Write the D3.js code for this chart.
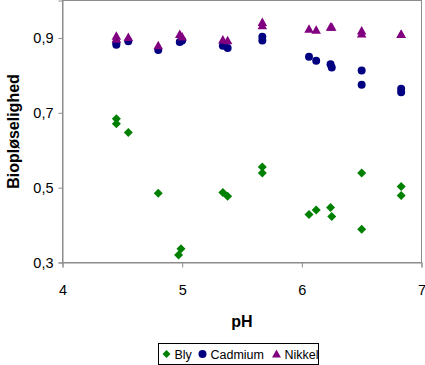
<!DOCTYPE html>
<html>
<head>
<meta charset="utf-8">
<script src="https://cdn.jsdelivr.net/npm/d3@7"></script>
<style>
  body { margin: 0; background: #fff; }
  text { font-family: "Liberation Sans", Arial, sans-serif; }
</style>
</head>
<body>
<div id="chart"></div>
<script>
// data
var series = ["Bly", "Cadmium", "Nikkel"];
var colors = ["#008000", "#000080", "#800080"];

var blyPH = [4.45, 4.45, 4.55, 4.80, 4.99, 4.97, 5.34, 5.38, 5.67, 5.67, 6.06, 6.12, 6.24, 6.25, 6.50, 6.50, 6.83, 6.83];
var blyVal = [0.684, 0.671, 0.647, 0.485, 0.337, 0.320, 0.487, 0.477, 0.555, 0.539, 0.428, 0.440, 0.447, 0.423, 0.539, 0.389, 0.503, 0.479];

var cadPH = [4.45, 4.45, 4.55, 4.80, 4.98, 5.00, 5.34, 5.38, 5.67, 5.67, 6.06, 6.12, 6.24, 6.25, 6.50, 6.50, 6.83, 6.83];
var cadVal = [0.887, 0.882, 0.891, 0.868, 0.889, 0.893, 0.879, 0.873, 0.903, 0.893, 0.850, 0.839, 0.830, 0.821, 0.813, 0.775, 0.764, 0.755];

var nikPH = [4.45, 4.45, 4.55, 4.80, 4.98, 5.00, 5.34, 5.38, 5.67, 5.67, 6.06, 6.12, 6.24, 6.25, 6.50, 6.50, 6.83, 6.83];
var nikVal = [0.905, 0.897, 0.902, 0.880, 0.910, 0.903, 0.895, 0.893, 0.942, 0.933, 0.924, 0.921, 0.929, 0.929, 0.919, 0.911, 0.910, 0.910];

var xTicks = [4, 5, 6, 7];
var yTicks = [0.3, 0.5, 0.7, 0.9];

var svgWidth = 425;
var svgHeight = 365;

var plot = { left: 62.5, right: 421.5, top: 0.5, bottom: 262.5 };

var svg = d3.select("#chart")
  .append("svg")
  .attr("width", svgWidth)
  .attr("height", svgHeight);

var xScale = d3.scaleLinear().domain([4, 7]).range([plot.left, plot.right]);
var yScale = d3.scaleLinear().domain([0.3, 1.0]).range([plot.bottom, plot.top]);

var fmt = function(d) { return d3.format(".1f")(d).replace(".", ","); };

// plot frame
svg.append("rect")
  .attr("x", plot.left)
  .attr("y", plot.top)
  .attr("width", plot.right - plot.left)
  .attr("height", plot.bottom - plot.top)
  .attr("fill", "none")
  .attr("stroke", "#8c8c8c");

// axes
var xAxis = svg.append("g")
  .attr("transform", "translate(0," + plot.bottom + ")")
  .call(d3.axisBottom(xScale).tickValues(xTicks).tickSize(5).tickPadding(17).tickFormat(d3.format("d")));

var yAxis = svg.append("g")
  .attr("transform", "translate(" + plot.left + ",0)")
  .call(d3.axisLeft(yScale).tickValues(yTicks).tickSize(4).tickPadding(5).tickFormat(fmt));

[xAxis, yAxis].forEach(function(ax) {
  ax.select(".domain").attr("stroke", "#8c8c8c");
  ax.selectAll(".tick line").attr("stroke", "#8c8c8c");
  ax.selectAll(".tick text")
    .attr("fill", "#000")
    .style("font-size", "14.5px")
    .style("font-family", "'Liberation Sans', Arial, sans-serif");
});

// marker shapes
var diamond = { draw: function(ctx, size) {
  var r = Math.sqrt(size) / 2;
  ctx.moveTo(0, -r); ctx.lineTo(r, 0); ctx.lineTo(0, r); ctx.lineTo(-r, 0); ctx.closePath();
}};
var triangle = { draw: function(ctx, size) {
  var r = Math.sqrt(size) / 2;
  ctx.moveTo(0, -r); ctx.lineTo(r, r * 0.8); ctx.lineTo(-r, r * 0.8); ctx.closePath();
}};
var shapes = [diamond, d3.symbolCircle, triangle];
var sizes = [81, 50, 90];

var allData = [
  blyPH.map(function(p, i) { return { x: p, y: blyVal[i] }; }),
  cadPH.map(function(p, i) { return { x: p, y: cadVal[i] }; }),
  nikPH.map(function(p, i) { return { x: p, y: nikVal[i] }; })
];

allData.forEach(function(pts, s) {
  svg.append("g").selectAll("path")
    .data(pts)
    .enter()
    .append("path")
    .attr("transform", function(d) { return "translate(" + xScale(d.x) + "," + yScale(d.y) + ")"; })
    .attr("d", d3.symbol().type(shapes[s]).size(sizes[s]))
    .attr("fill", colors[s]);
});

// axis titles
svg.append("text")
  .attr("x", (plot.left + plot.right) / 2)
  .attr("y", 327)
  .attr("text-anchor", "middle")
  .style("font-size", "16px")
  .style("font-weight", "bold")
  .text("pH");

svg.append("text")
  .attr("transform", "translate(19," + ((plot.top + plot.bottom) / 2) + ") rotate(-90)")
  .attr("text-anchor", "middle")
  .style("font-size", "16px")
  .style("font-weight", "bold")
  .text("Biopløselighed");

// legend
var legend = svg.append("g");
legend.append("rect")
  .attr("x", 158.5)
  .attr("y", 343.5)
  .attr("width", 160)
  .attr("height", 21)
  .attr("fill", "#fff")
  .attr("stroke", "#000");

var legX = [166.5, 202.5, 276.5];
var legSizes = [64, 50, 80];
series.forEach(function(name, s) {
  legend.append("path")
    .attr("transform", "translate(" + legX[s] + ",354)")
    .attr("d", d3.symbol().type(shapes[s]).size(legSizes[s]))
    .attr("fill", colors[s]);
  legend.append("text")
    .attr("x", legX[s] + 8)
    .attr("y", 358.5)
    .style("font-size", "12.5px")
    .text(name);
});
</script>
</body>
</html>
